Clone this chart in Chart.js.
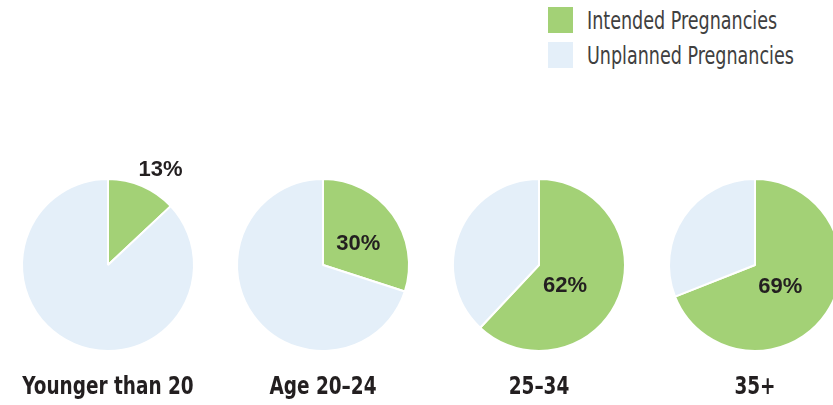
<!DOCTYPE html>
<html>
<head>
<meta charset="utf-8">
<script src="https://cdn.jsdelivr.net/npm/chart.js@4.4.1/dist/chart.umd.min.js"></script>
<style>
    html, body { margin: 0; padding: 0; background: #fff; overflow: hidden; }
    body { width: 833px; height: 405px; position: relative; }
    .legend { position: absolute; left: 548px; top: 7px; font-family: "DejaVu Sans Condensed", "Liberation Sans Narrow", sans-serif; font-size: 25px; color: #404040; white-space: nowrap; }
    .legend div { display: flex; align-items: center; height: 26px; margin-bottom: 9px; }
    .legend span.box { width: 25px; height: 26px; margin-right: 14px; display: inline-block; flex: none; }
    .legend span.txt { display: inline-block; transform: scaleX(0.78); transform-origin: left center; }
    .pie { position: absolute; top: 140px; width: 216px; height: 250px; }
    .label { position: absolute; top: 372px; width: 216px; text-align: center; white-space: nowrap; font-family: "DejaVu Sans Condensed", "Liberation Sans Narrow", sans-serif; font-weight: bold; font-size: 24px; color: #231f20; transform: scaleX(0.855); transform-origin: center; }
</style>
</head>
<body>
<div class="legend" id="legend"></div>
<div id="charts"></div>

<script>
// Data
const ageGroups = ['Younger than 20', 'Age 20\u201324', '25\u201334', '35+'];
const intended = [13, 30, 62, 69];
const unplanned = [87, 70, 38, 31];
const seriesNames = ['Intended Pregnancies', 'Unplanned Pregnancies'];
const colors = ['#a3d176', '#e4eff9'];

// where the percent label sits: angle (deg, 0 = 3 o'clock) and distance as share of radius
const labelSpots = [
    { angle: -61, dist: 1.26 },
    { angle: -31, dist: 0.48 },
    { angle: 39, dist: 0.39 },
    { angle: 41, dist: 0.39 }
];
const centers = [108, 323, 539, 755];

// Legend
const legend = document.getElementById('legend');
seriesNames.forEach((name, i) => {
    const row = document.createElement('div');
    row.innerHTML = '<span class="box" style="background:' + colors[i] + '"></span><span class="txt">' + name + '</span>';
    legend.appendChild(row);
});

// percent label plugin
const percentLabel = {
    id: 'percentLabel',
    afterDatasetsDraw(chart, args, opts) {
        const arc = chart.getDatasetMeta(0).data[0];
        const rad = opts.angle * Math.PI / 180;
        const x = arc.x + Math.cos(rad) * arc.outerRadius * opts.dist;
        const y = arc.y + Math.sin(rad) * arc.outerRadius * opts.dist;
        const ctx = chart.ctx;
        ctx.save();
        ctx.font = 'bold 22px "Liberation Sans", Arial, sans-serif';
        ctx.fillStyle = '#231f20';
        ctx.textAlign = 'center';
        ctx.textBaseline = 'middle';
        ctx.fillText(chart.data.datasets[0].data[0] + '%', x, y);
        ctx.restore();
    }
};

const holder = document.getElementById('charts');
ageGroups.forEach((group, i) => {
    const box = document.createElement('div');
    box.className = 'pie';
    box.style.left = (centers[i] - 108) + 'px';
    const canvas = document.createElement('canvas');
    box.appendChild(canvas);
    holder.appendChild(box);

    const label = document.createElement('div');
    label.className = 'label';
    label.style.left = (centers[i] - 108) + 'px';
    label.textContent = group;
    holder.appendChild(label);

    new Chart(canvas.getContext('2d'), {
        type: 'pie',
        data: {
            labels: seriesNames,
            datasets: [{
                data: [intended[i], unplanned[i]],
                backgroundColor: colors,
                borderColor: '#ffffff',
                borderWidth: 2
            }]
        },
        options: {
            responsive: true,
            maintainAspectRatio: false,
            animation: false,
            layout: { padding: { top: 38, bottom: 38, left: 0, right: 0 } },
            plugins: {
                legend: { display: false },
                tooltip: { enabled: false },
                percentLabel: labelSpots[i]
            }
        },
        plugins: [percentLabel]
    });
});
</script>
</body>
</html>
